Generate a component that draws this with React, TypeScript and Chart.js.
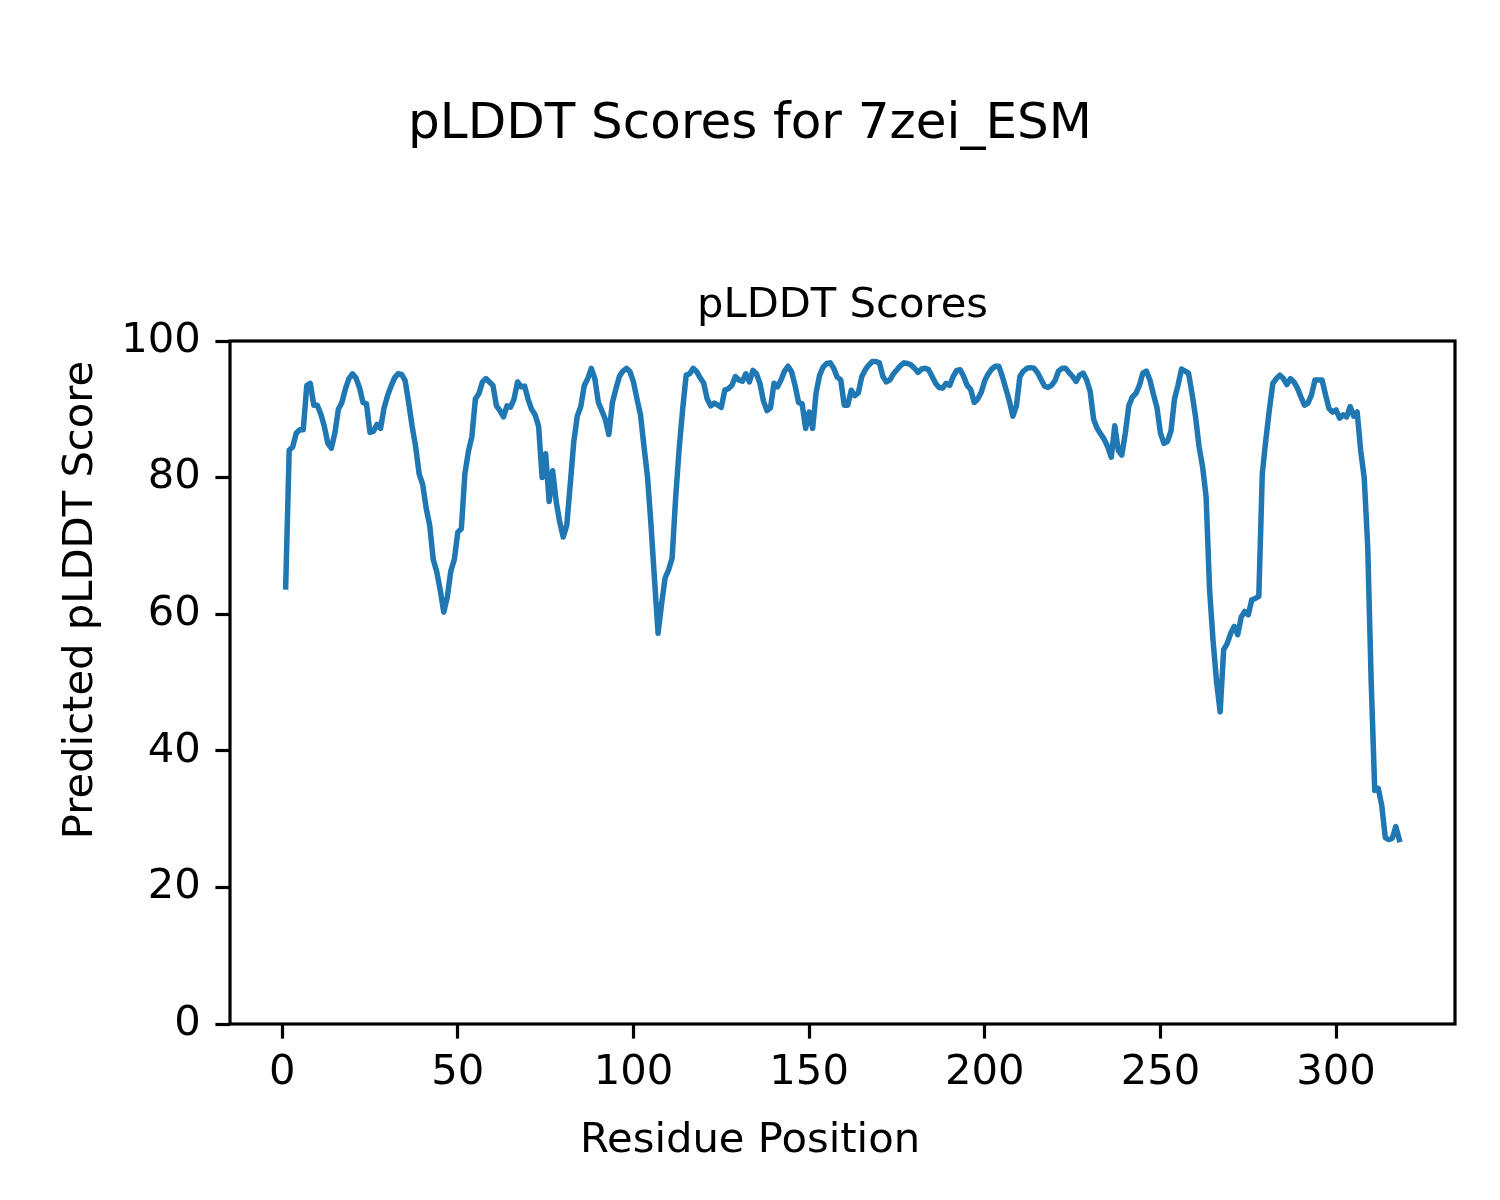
import React, { useEffect, useRef } from "react";
import { Chart, registerables } from "chart.js";

Chart.register(...registerables);

const figureTitle = "pLDDT Scores for 7zei_ESM";
const axesTitle = "pLDDT Scores";
const xLabel = "Residue Position";
const yLabel = "Predicted pLDDT Score";

const xTicks = [0, 50, 100, 150, 200, 250, 300];
const yTicks = [0, 20, 40, 60, 80, 100];

// pLDDT score per residue (residues 1..318)
const scores = [
  64, 84, 84.5, 86.5, 87, 87, 93.5, 93.8, 90.6, 90.6,
  89.3, 87.5, 85, 84.3, 86.5, 90, 91, 93, 94.5, 95.2,
  94.6, 93.2, 91, 90.8, 86.6, 86.8, 87.8, 87.2, 90.2, 92,
  93.4, 94.6, 95.2, 95.1, 94.2, 91, 87.5, 84.5, 80.5, 79,
  75.5, 73, 68, 66.2, 63.5, 60.3, 62.5, 66.3, 68, 72,
  72.5, 80.5, 83.8, 86, 91.5, 92.3, 94, 94.5, 94, 93.5,
  90.5, 89.8, 88.9, 90.5, 90.3, 91.5, 94, 93.3, 93.4, 91.5,
  90, 89.2, 87.5, 80, 83.5, 76.5, 81, 76.5, 73.5, 71.3,
  73, 79, 85.2, 89, 90.4, 93.5, 94.5, 96, 94.5, 91,
  89.8, 88.5, 86.3, 91, 93, 94.8, 95.6, 96, 95.5, 94,
  91.5, 89.2, 84.5, 80.1, 73, 65, 57.2, 61.5, 65.3, 66.5,
  68.2, 77, 84.2, 90, 95, 95.2, 96, 95.5, 94.6, 93.8,
  91.5, 90.5, 90.9, 90.6, 90.3, 92.8, 93, 93.5, 94.8, 94.3,
  94.1, 95.2, 94, 95.7, 95.2, 93.8, 91.2, 89.8, 90.2, 93.8,
  93.3, 94.3, 95.6, 96.3, 95.5, 93.5, 91, 90.8, 87.2, 89.6,
  87.2, 92.5, 95, 96.2, 96.7, 96.8, 96, 94.7, 94.3, 90.6,
  90.6, 92.8, 92, 92.4, 94.8, 95.8, 96.5, 97, 97, 96.8,
  94.8, 94, 94.3, 95.2, 95.8, 96.4, 96.8, 96.7, 96.5, 96,
  95.4, 95.9, 96, 95.8, 94.8, 93.8, 93.2, 93.1, 93.8, 93.5,
  94.8, 95.7, 95.8, 94.8, 93.5, 92.9, 91, 91.5, 92.5, 94.2,
  95.2, 95.9, 96.3, 96.3, 94.8, 93, 91.2, 89, 90.5, 94.8,
  95.6, 96, 96.1, 96, 95.4, 94.4, 93.4, 93.2, 93.5, 94.2,
  95.6, 96, 96, 95.4, 94.8, 94.1, 95, 95.3, 94.3, 92.6,
  88.5, 87.2, 86.4, 85.6, 84.5, 83, 87.6, 84, 83.3, 86.5,
  90.5, 91.8, 92.3, 93.5, 95.3, 95.6, 94.3, 92.2, 90.3, 86.5,
  85, 85.3, 86.8, 91.5, 93.5, 95.9, 95.6, 95.3, 92.3, 88.9,
  84.5, 81.6, 77.2, 63.5, 56, 50, 45.7, 54.8, 55.7, 57.2,
  58.2, 57, 59.6, 60.4, 59.9, 62.1, 62.3, 62.6, 80.6, 85.5,
  89.9, 93.8, 94.5, 95, 94.5, 93.6, 94.5, 94, 93.1, 91.8,
  90.6, 90.9, 92.1, 94.3, 94.3, 94.3, 92.1, 90.1, 89.6, 89.9,
  88.7, 89.2, 88.9, 90.4, 89, 89.6, 84, 80, 70, 50,
  34.2, 34.5, 32, 27.3, 27, 27.2, 28.9, 27,
];

const residues = scores.map((_, i) => i + 1);

const FONT = '"DejaVu Sans", sans-serif';
const TICK_PX = 41.7;
const LINE_BLUE = "#1f77b4";
const SPINE_W = 3.2;

const textPlugin = {
  id: "figureTexts",
  afterDatasetsDraw(chart: any) {
    const { ctx, chartArea } = chart;
    ctx.save();
    ctx.strokeStyle = "#000";
    ctx.lineWidth = SPINE_W;
    ctx.strokeRect(
      chartArea.left,
      chartArea.top,
      chartArea.right - chartArea.left,
      chartArea.bottom - chartArea.top
    );
    ctx.restore();
  },
  afterDraw(chart: any) {
    const { ctx, chartArea } = chart;
    ctx.save();
    ctx.fillStyle = "#000";
    ctx.textAlign = "center";
    ctx.textBaseline = "alphabetic";
    ctx.font = `50px ${FONT}`;
    ctx.fillText(figureTitle, 750, 138);
    ctx.font = `${TICK_PX}px ${FONT}`;
    ctx.fillText(axesTitle, (chartArea.left + chartArea.right) / 2, 317);
    ctx.fillText(xLabel, 750, 1152);
    ctx.translate(92, 600);
    ctx.rotate(-Math.PI / 2);
    ctx.fillText(yLabel, 0, 0);
    ctx.restore();
  },
};

export default function App() {
  const canvasRef = useRef<HTMLCanvasElement | null>(null);

  useEffect(() => {
    if (!canvasRef.current) return;
    const chart = new Chart(canvasRef.current, {
      type: "line",
      data: {
        datasets: [
          {
            data: residues.map((r, i) => ({ x: r, y: scores[i] })),
            borderColor: LINE_BLUE,
            borderWidth: 5.5,
            pointRadius: 0,
            tension: 0,
            fill: false,
            borderCapStyle: "square",
            borderJoinStyle: "round",
          },
        ],
      },
      options: {
        animation: false,
        responsive: false,
        devicePixelRatio: 1,
        layout: { padding: { left: 100, top: 341, right: 45, bottom: 0 } },
        plugins: {
          legend: { display: false },
          tooltip: { enabled: false },
          title: { display: false },
        },
        scales: {
          x: {
            type: "linear",
            min: -14.85,
            max: 333.85,
            afterBuildTicks: (scale: any) => {
              scale.ticks = xTicks.map((v) => ({ value: v }));
            },
            afterFit: (scale: any) => {
              scale.height = 176;
            },
            ticks: {
              color: "#000",
              font: { family: FONT, size: TICK_PX },
              padding: 10,
              maxRotation: 0,
              autoSkip: false,
            },
            grid: {
              drawOnChartArea: false,
              drawTicks: true,
              tickLength: 14.6,
              tickWidth: SPINE_W,
              tickColor: "#000",
            },
            border: { display: false },
          },
          y: {
            type: "linear",
            min: 0,
            max: 100,
            afterBuildTicks: (scale: any) => {
              scale.ticks = yTicks.map((v) => ({ value: v }));
            },
            afterFit: (scale: any) => {
              scale.width = 130;
            },
            ticks: {
              color: "#000",
              font: { family: FONT, size: TICK_PX },
              padding: 14.6,
              autoSkip: false,
            },
            grid: {
              drawOnChartArea: false,
              drawTicks: true,
              tickLength: 14.6,
              tickWidth: SPINE_W,
              tickColor: "#000",
            },
            border: { display: false },
          },
        },
      },
      plugins: [textPlugin],
    } as any);
    return () => chart.destroy();
  }, []);

  return (
    <div style={{ position: "absolute", left: 0, top: 0, width: 1500, height: 1200, background: "#fff" }}>
      <canvas ref={canvasRef} width={1500} height={1200} style={{ width: 1500, height: 1200 }} />
    </div>
  );
}
